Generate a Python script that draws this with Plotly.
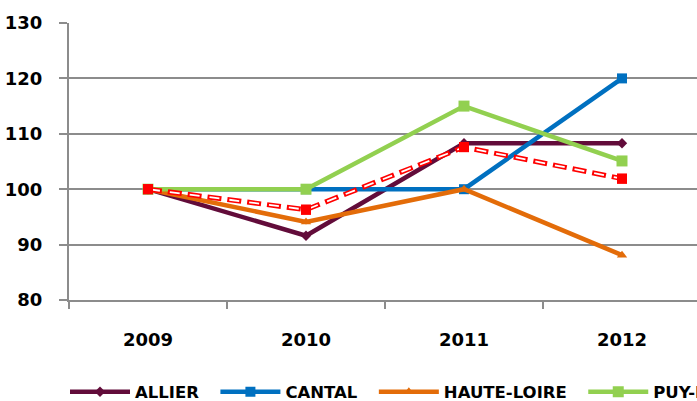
import plotly.graph_objects as go

years = ["2009", "2010", "2011", "2012"]
allier = [100, 91.6, 108.3, 108.3]
cantal = [100, 100, 100, 120]
haute_loire = [100, 94.1, 100, 88.1]
puy = [100, 100, 115, 105.1]
auvergne = [100, 96.3, 107.6, 101.9]
y_ticks = [80, 90, 100, 110, 120, 130]

FONT = "DejaVu Sans"
GRID = "#8c8c8c"
PAD = "\u00a0\u00a0"  # extra spacing after each legend label

fig = go.Figure()

def add(name, vals, color, symbol, msize, width):
    fig.add_trace(go.Scatter(
        x=years, y=vals, name=name + PAD, mode="lines+markers",
        line=dict(color=color, width=width),
        marker=dict(symbol=symbol, size=msize, color=color),
    ))

add("ALLIER", allier, "#620C3A", "diamond", 8, 4.5)
add("CANTAL", cantal, "#0070C0", "square", 10, 4.5)
add("HAUTE-LOIRE", haute_loire, "#E36C09", "triangle-up", 9, 4.5)
add("PUY-DE-DOME", puy, "#92D050", "square", 11, 4.5)

fig.add_trace(go.Scatter(
    x=years, y=auvergne, name="AUVERGNE" + PAD, mode="lines+markers",
    line=dict(color="#FF0000", width=5, dash="14px,6px"),
    marker=dict(symbol="square", size=10, color="#FF0000"),
))
fig.add_trace(go.Scatter(
    x=years, y=auvergne, mode="lines", showlegend=False, hoverinfo="skip",
    line=dict(color="#FFFFFF", width=1.8, dash="0px,2px,10px,8px"),
))
fig.add_trace(go.Scatter(
    x=years, y=auvergne, mode="markers", showlegend=False, hoverinfo="skip",
    marker=dict(symbol="square", size=10, color="#FF0000"),
))

W = 1300
H = 401
L_PX, R_PX, T_PX, B_PX = 69, 701, 23, 300
PW = R_PX - L_PX
PH = B_PX - T_PX
LEGEND_RIGHT_PX = 987
fig.update_layout(
    width=W, height=H, autosize=False,
    margin=dict(l=L_PX, r=W - R_PX, t=T_PX, b=H - B_PX, pad=0, autoexpand=False),
    paper_bgcolor="white", plot_bgcolor="white",
    font=dict(family=FONT, size=18, color="#000000", weight="bold"),
    showlegend=True,
    legend=dict(orientation="h",
                x=(LEGEND_RIGHT_PX - L_PX) / PW, xanchor="right",
                y=(B_PX - 392) / PH, yanchor="middle",
                font=dict(family=FONT, size=16.5, color="#000000", weight="bold"),
                itemwidth=60, traceorder="normal",
                bgcolor="rgba(0,0,0,0)"),
    xaxis=dict(type="category", range=[-0.5, 3.5], tickson="boundaries",
               ticks="outside", ticklen=7, tickwidth=1.5, tickcolor=GRID,
               showline=True, linecolor=GRID, linewidth=2,
               showgrid=False, zeroline=False, ticklabelstandoff=22,
               tickfont=dict(family=FONT, size=18, weight="bold")),
    yaxis=dict(range=[80, 130], tickvals=y_ticks, ticks="outside", ticklen=8,
               tickwidth=1.5, tickcolor=GRID, showline=True, linecolor=GRID,
               linewidth=2, showgrid=True, gridcolor=GRID, gridwidth=1.5,
               zeroline=False, ticklabelstandoff=13,
               tickfont=dict(family=FONT, size=18, weight="bold")),
)

fig.write_html("out.html", post_script="document.body.style.margin='0';document.body.style.overflow='hidden';document.documentElement.style.overflow='hidden';")
